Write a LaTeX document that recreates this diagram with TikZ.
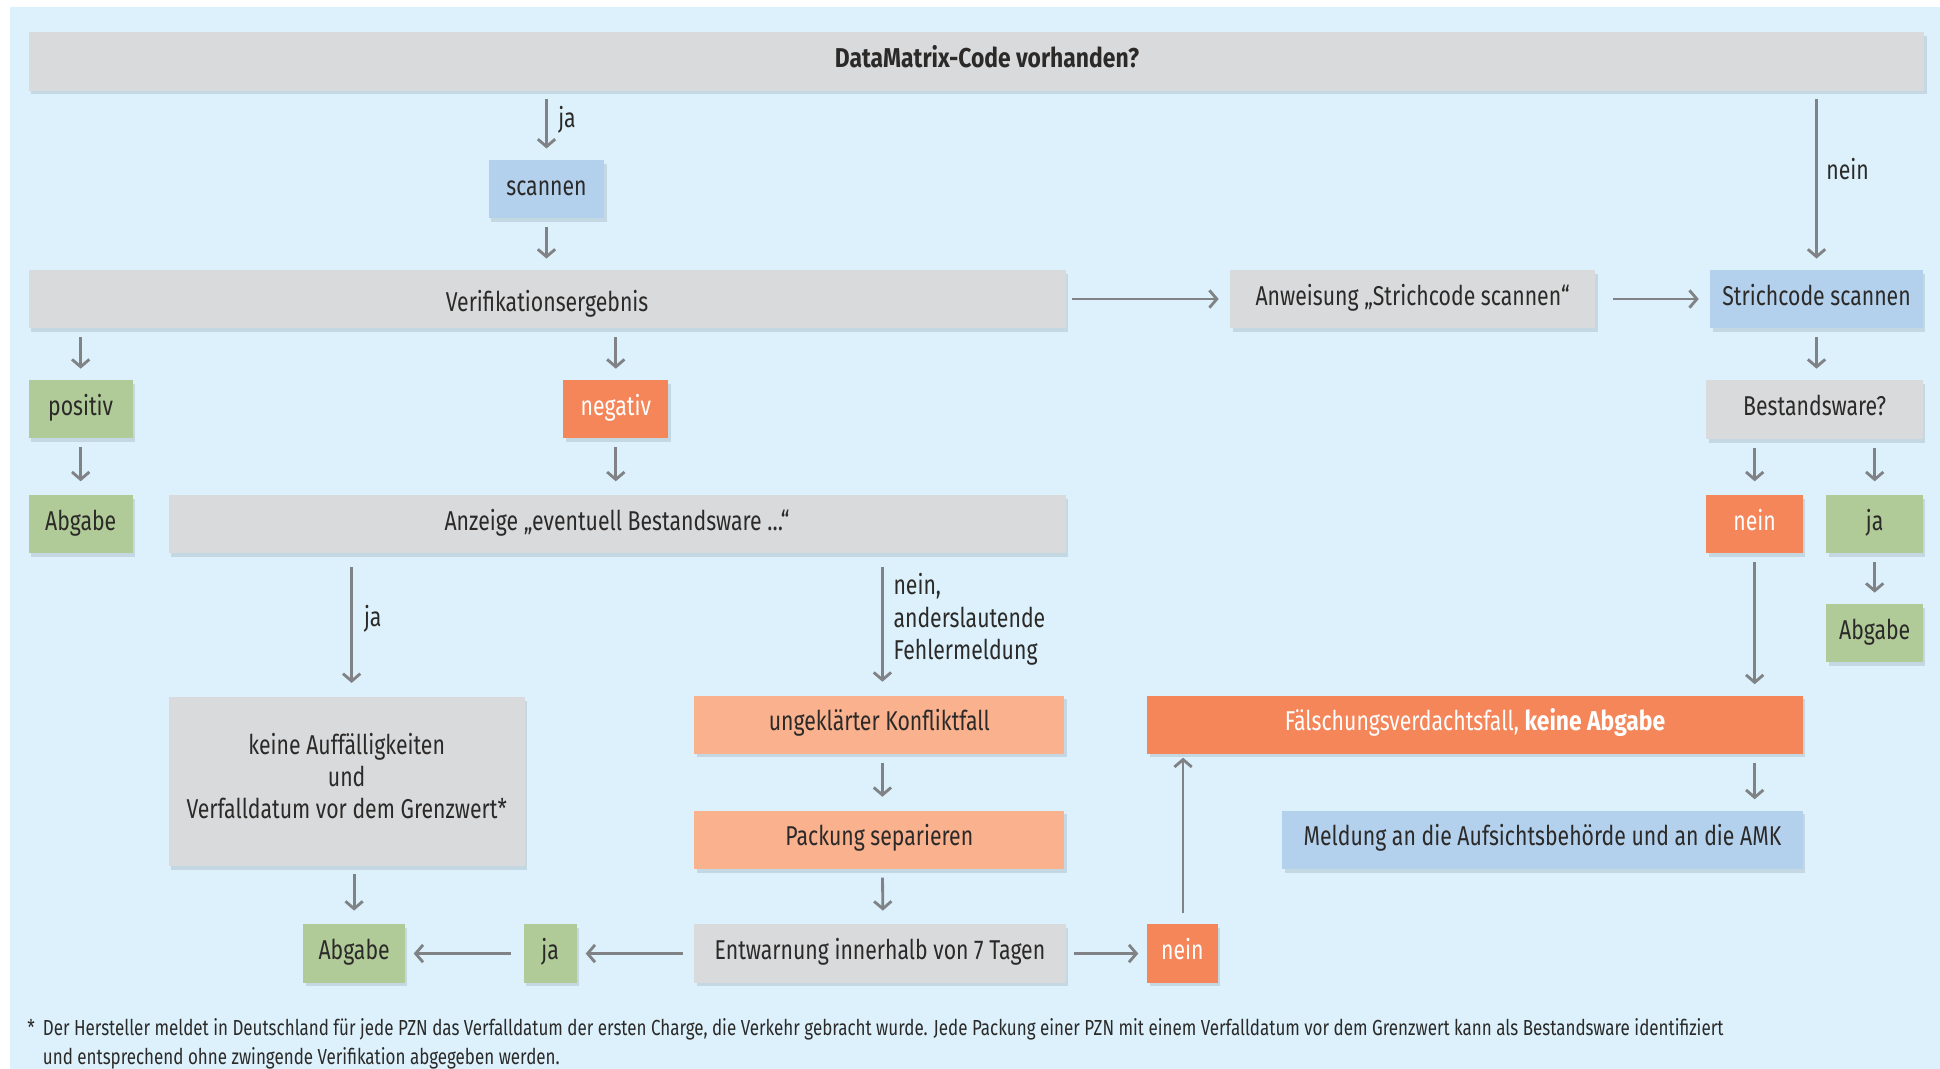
\documentclass[tikz,border=0pt]{standalone}
\usepackage{fontspec}
\setmainfont{Fira Sans}[FakeStretch=0.78, BoldFeatures={FakeStretch=0.84}]
\usetikzlibrary{arrows.meta,shadows}
\definecolor{bgc}{HTML}{DCF1FC}
\definecolor{grayc}{HTML}{D9DADC}
\definecolor{bluec}{HTML}{B3D0EC}
\definecolor{greenc}{HTML}{B1CB98}
\definecolor{orangec}{HTML}{F5865A}
\definecolor{lorangec}{HTML}{F9B18E}
\definecolor{arrc}{HTML}{808285}
\definecolor{txtc}{HTML}{2B2A29}
\definecolor{shadc}{HTML}{C4D8E4}
\begin{document}
\begin{tikzpicture}[x=1pt,y=-1pt,
  base/.style={rectangle, inner sep=0pt, anchor=north west, text=txtc,
    font=\fontsize{22}{26}\selectfont, align=center,
    text height=10pt, text depth=0pt,
    drop shadow={shadow xshift=2pt, shadow yshift=-3pt, fill=shadc, opacity=1}},
  gbox/.style={base, fill=grayc},
  bbox/.style={base, fill=bluec},
  grbox/.style={base, fill=greenc},
  obox/.style={base, fill=orangec, text=white},
  lobox/.style={base, fill=lorangec},
  arr/.style={draw=arrc, line width=2.3pt, -{Straight Barb[length=6pt,width=14pt]},
    shorten <=7pt, shorten >=9pt},
  lbl/.style={text=txtc, font=\fontsize{22}{26}\selectfont, inner sep=0pt, align=left},
  fn/.style={text=txtc, font=\fontsize{17.6}{21}\selectfont, anchor=base west, inner sep=0pt}
]
\useasboundingbox (0,0) rectangle (1568,864);
\fill[white] (0,0) rectangle (1568,864);
\fill[bgc] (8,6) rectangle (1568,864);

% boxes
\node[gbox, minimum width=1532pt, minimum height=47pt] (top) at (23,26) {\hspace*{17pt}\bfseries DataMatrix-Code vorhanden?};
\node[bbox, minimum width=93pt, minimum height=47pt] (scan) at (395,129) {scannen};
\node[gbox, minimum width=838pt, minimum height=47pt, text height=20pt] (verif) at (23,218) {Verifikationsergebnis};
\node[gbox, minimum width=295pt, minimum height=47pt] (anw) at (994,218) {Anweisung „Strichcode scannen“};
\node[bbox, minimum width=172pt, minimum height=47pt] (strich) at (1382,218) {Strichcode scannen};
\node[gbox, minimum width=175pt, minimum height=48pt] (best) at (1379,307) {Bestandsware?};
\node[obox, minimum width=78pt, minimum height=47pt] (bnein) at (1379,400) {nein};
\node[grbox, minimum width=78pt, minimum height=47pt] (bja) at (1476,400) {ja};
\node[grbox, minimum width=78pt, minimum height=47pt] (babg) at (1476,488) {Abgabe};
\node[obox, minimum width=530pt, minimum height=47pt] (fals) at (927,562) {Fälschungsverdachtsfall, \textbf{keine Abgabe}};
\node[bbox, minimum width=421pt, minimum height=47pt] (meld) at (1036,655) {Meldung an die Aufsichtsbehörde und an die AMK};
\node[grbox, minimum width=84pt, minimum height=47pt] (pos) at (23,307) {positiv};
\node[obox, minimum width=85pt, minimum height=47pt] (neg) at (455,307) {negativ};
\node[grbox, minimum width=84pt, minimum height=47pt] (abg1) at (23,400) {Abgabe};
\node[gbox, minimum width=725pt, minimum height=47pt] (anz) at (136,400) {Anzeige „eventuell Bestandsware …“};
\node[gbox, minimum width=288pt, minimum height=137pt, text height=60pt, text depth=0pt] (keine) at (136,563) {keine Auffälligkeiten\\und\\Verfalldatum vor dem Grenzwert*};
\node[lobox, minimum width=299pt, minimum height=47pt] (ungek) at (561,562) {ungeklärter Konfliktfall};
\node[lobox, minimum width=299pt, minimum height=47pt] (pack) at (561,655) {Packung separieren};
\node[gbox, minimum width=300pt, minimum height=47pt] (entw) at (561,747) {Entwarnung innerhalb von 7 Tagen};
\node[grbox, minimum width=82pt, minimum height=47pt] (abg2) at (245,747) {Abgabe};
\node[grbox, minimum width=43pt, minimum height=47pt] (ja2) at (423,747) {ja};
\node[obox, minimum width=57pt, minimum height=47pt] (nein2) at (927,747) {nein};

% connectors
\draw[arr] (scan.north |- top.south) -- (scan.north);
\node[lbl, anchor=west] (lja) at (451,97) {ja};
\draw[arr] (scan.south) -- (verif.north -| scan.south);
\draw[arr, shorten <=5pt] (verif.east) -- (anw.west);
\draw[arr, shorten <=14pt] (anw.east) -- (strich.west);
\draw[arr] (strich.north |- top.south) -- (strich.north);
\node[lbl, anchor=west] (lnein) at (1476,137) {nein};
\draw[arr] (strich.south) -- (best.north -| strich.south);
\draw[arr, shorten >=11pt] (best.south -| bnein.north) -- (bnein.north);
\draw[arr, shorten >=11pt] (best.south -| bja.north) -- (bja.north);
\draw[arr] (bja.south) -- (babg.north);
\draw[arr] (bnein.south) -- (fals.north -| bnein.south);
\draw[arr] (fals.south -| bnein.south) -- (meld.north -| bnein.south);
\draw[arr, shorten >=9pt] (verif.south -| pos.north) -- (pos.north);
\draw[arr, shorten >=9pt] (verif.south -| neg.north) -- (neg.north);
\draw[arr, shorten >=11pt] (pos.south) -- (abg1.north);
\draw[arr, shorten >=11pt] (neg.south) -- (anz.north -| neg.south);
\draw[arr, shorten <=11pt, shorten >=11pt] ([xshift=4pt]anz.south -| keine.north) -- ([xshift=4pt]keine.north);
\node[lbl, anchor=west] (lja2) at (294,500) {ja};
\draw[arr, shorten <=11pt, shorten >=11pt] ([xshift=2.5pt]anz.south -| ungek.north) -- ([xshift=2.5pt]ungek.north);
\node[lbl, anchor=south west, text depth=0pt] (lnein2) at (722,533) {nein,\\anderslautende\\Fehlermeldung};
\draw[arr, shorten >=11pt] ([xshift=2.5pt]ungek.south) -- ([xshift=2.5pt]pack.north);
\draw[arr, shorten >=11pt] ([xshift=2.5pt]pack.south) -- ([xshift=2.5pt]entw.north);
\draw[arr, shorten <=6pt, shorten >=11pt] (keine.south -| abg2.north) -- (abg2.north);
\draw[arr, shorten <=9pt, shorten >=7pt] (entw.west) -- (ja2.east);
\draw[arr, shorten <=10pt, shorten >=7pt] (ja2.west) -- (abg2.east);
\draw[arr, shorten <=7pt, shorten >=7pt] (entw.east) -- (nein2.west);
\draw[arr, shorten <=9pt, shorten >=3pt] ([xshift=0.5pt]nein2.north) -- ([xshift=0.5pt]nein2.north |- fals.south);

% footnote
\node[fn] (fnstar) at (22,837) {*};
\node[fn] (fn1) at (34.5,837) {Der Hersteller meldet in Deutschland für jede PZN das Verfalldatum der ersten Charge, die Verkehr gebracht wurde. Jede Packung einer PZN mit einem Verfalldatum vor dem Grenzwert kann als Bestandsware identifiziert};
\node[fn] (fn2) at (34.5,860) {und entsprechend ohne zwingende Verifikation abgegeben werden.};
\end{tikzpicture}
\end{document}
